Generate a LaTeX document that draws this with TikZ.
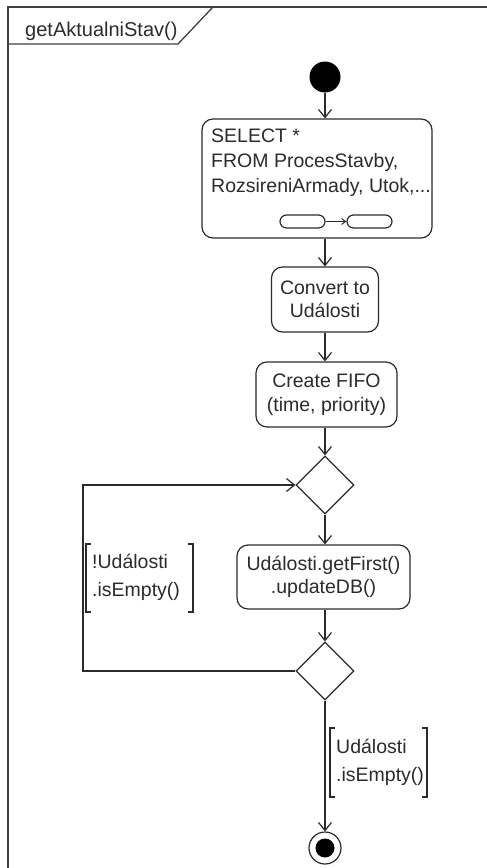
\documentclass[tikz,border=0pt]{standalone}
\usepackage{fontspec}
\setmainfont{Liberation Sans}
\usetikzlibrary{arrows.meta,shapes.geometric}
\definecolor{ink}{HTML}{2B2B2B}
\tikzset{
  stroke/.style={draw=ink, line width=1.2pt},
  flow/.style={stroke, -{Straight Barb[length=8pt,width=13pt,line width=1.2pt]}},
  action/.style={stroke, rounded corners=11pt, align=center, inner sep=0pt,
    text=ink, font=\fontsize{19.5}{23.5}\selectfont},
  decision/.style={stroke, diamond, minimum width=58pt, minimum height=58pt, inner sep=0pt},
  guardtext/.style={align=left, inner sep=0pt, anchor=north west, text=ink,
    font=\fontsize{19.5}{28}\selectfont},
  plain/.style={inner sep=0pt, text=ink},
}
\begin{document}
\begin{tikzpicture}[x=1pt, y=-1pt]
\useasboundingbox (0,0) rectangle (487,868);
\clip (0,0) rectangle (487,868);

% activity frame with its name tab
\draw[draw=ink!90, line width=1.5pt] (8,880) -- (8,7) -- (495,7);
\draw[draw=ink!90, line width=1.3pt] (8,44) -- (178,44) -- (213,7);
\node[plain, anchor=base west, font=\fontsize{20}{24}\selectfont] (title) at (25,36) {getAktualniStav()};

% initial node
\node[circle, fill=black, minimum size=31pt, inner sep=0pt] (start) at (325,77) {};

% query action with its sub-activity icon
\node[action, minimum width=230pt, minimum height=119pt] (sel) at (317,178.5) {};
\node[guardtext, font=\fontsize{19.5}{25}\selectfont] (seltext) at (211,129)
  {SELECT *\\FROM ProcesStavby,\\RozsireniArmady, Utok,...};
\node[stroke, rounded corners=6.5pt, minimum width=45pt, minimum height=13pt, inner sep=0pt] (rakeA) at (302.5,221.5) {};
\node[stroke, rounded corners=6.5pt, minimum width=45pt, minimum height=13pt, inner sep=0pt] (rakeB) at (369.5,221.5) {};
\draw[stroke, line width=1pt, -{Straight Barb[length=4pt,width=6pt,line width=1pt]}] (rakeA.east) -- (rakeB.west);

% remaining actions
\node[action, minimum width=107pt, minimum height=65pt] (conv) at (325,299.5) {Convert to\\Události};
\node[action, minimum width=141pt, minimum height=65pt] (fifo) at (326.5,394.5) {Create FIFO\\(time, priority)};
\node[decision] (d1) at (325,485) {};
\node[action, minimum width=173pt, minimum height=64pt] (upd) at (323.5,577) {Události.getFirst()\\.updateDB()};
\node[decision] (d2) at (325,671) {};

% final node
\node[circle, stroke, minimum size=32pt, inner sep=0pt] (fin) at (325,848) {};
\node[circle, fill=black, minimum size=19pt, inner sep=0pt] (finin) at (fin.center) {};

% control flow
\draw[flow] (start) -- (start |- sel.north);
\draw[flow] (sel.south -| conv.north) -- (conv.north);
\draw[flow] (conv) -- (conv |- fifo.north);
\draw[flow] (fifo.south -| d1.north) -- (d1.north);
\draw[flow] (d1) -- (d1 |- upd.north);
\draw[flow] (upd.south -| d2.north) -- (d2.north);
\draw[flow] (d2.south) -- (fin.north);
\coordinate (loopbot) at (83,671);
\coordinate (looptop) at (83,485);
\draw[flow] (d2.west) -- (loopbot) -- (looptop) -- (d1.west);

% guard conditions
\node[guardtext] (g1) at (92,554) {!Události\\.isEmpty()};
\draw[stroke] (91,544) -- (86,544) -- (86,612) -- (91,612);
\draw[stroke] (188,544) -- (193,544) -- (193,612) -- (188,612);
\node[guardtext] (g2) at (336,739) {Události\\.isEmpty()};
\draw[stroke] (335,728) -- (330,728) -- (330,797) -- (335,797);
\draw[stroke] (422,728) -- (427,728) -- (427,797) -- (422,797);
\end{tikzpicture}
\end{document}
